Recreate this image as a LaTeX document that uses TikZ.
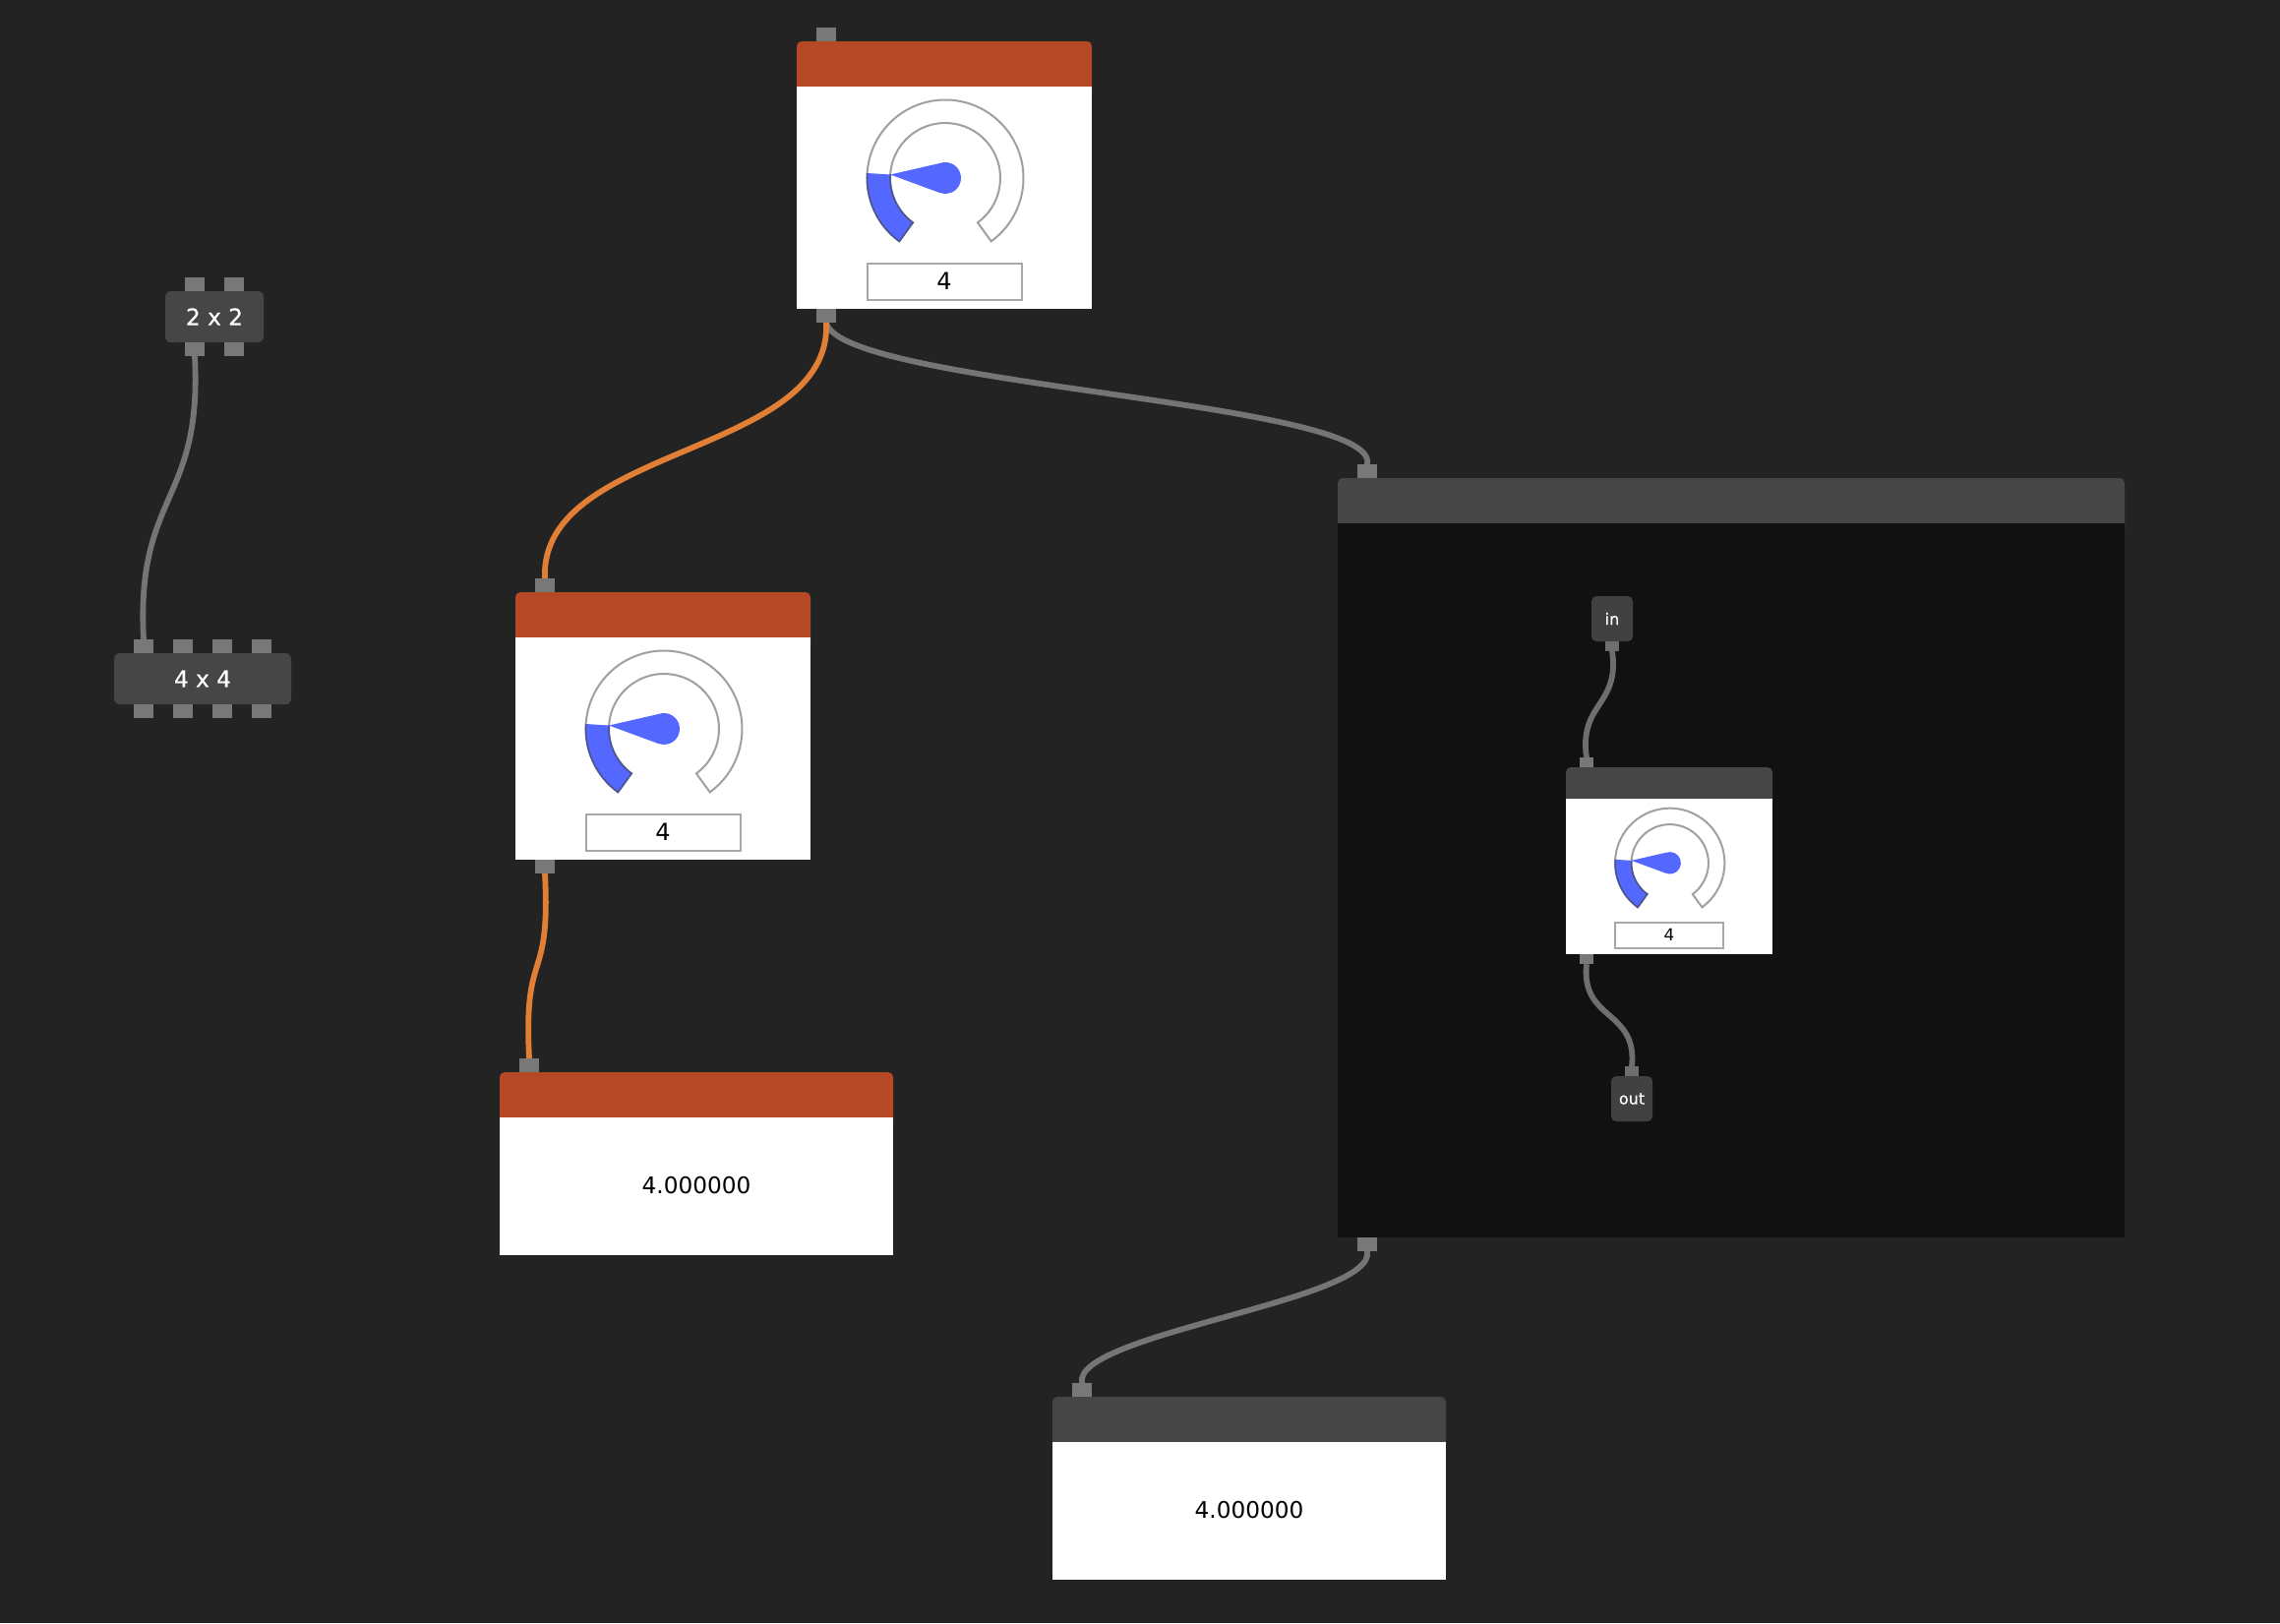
\documentclass[tikz,border=0pt]{standalone}
\usepackage{fontspec}
\setmainfont{DejaVu Sans}
\newfontfamily\heavylabel[FakeBold=0.5]{DejaVu Sans}
\definecolor{bgc}{HTML}{232323}
\definecolor{portc}{HTML}{787878}
\definecolor{innerport}{HTML}{6E6E6E}
\definecolor{greyhead}{HTML}{464646}
\definecolor{innerblock}{HTML}{414141}
\definecolor{panel}{HTML}{111111}
\definecolor{redhead}{HTML}{B54926}
\definecolor{orangewire}{HTML}{E07F35}
\definecolor{greywire}{HTML}{757575}
\definecolor{dialblue}{HTML}{5468FF}
\definecolor{dialline}{HTML}{A0A0A0}
\definecolor{dialedge}{HTML}{4A5590}
\definecolor{boxline}{HTML}{A8A8A8}
\tikzset{
  x=0.5pt,y=-0.5pt,
  port/.style={fill=portc,inner sep=0,outer sep=0,minimum width=10pt,minimum height=7pt},
  smallport/.style={fill=innerport,inner sep=0,outer sep=0,minimum width=7pt,minimum height=5pt},
  headbar/.style={fill=#1,inner sep=0,outer sep=0,rounded corners=2.5pt},
  bodybox/.style={fill=white,inner sep=0,outer sep=0,text=black},
  block/.style={fill=greyhead,text=white,inner sep=0,outer sep=0,rounded corners=3pt,font=\heavylabel\fontsize{11.6pt}{14pt}\selectfont},
  smallblock/.style={fill=innerblock,text=white,inner sep=0,outer sep=0,rounded corners=2.5pt,minimum width=21pt,minimum height=23pt,font=\heavylabel\fontsize{8pt}{10pt}\selectfont},
  wire/.style={draw=greywire,line width=2.9pt},
  orangeline/.style={draw=orangewire,line width=2.9pt},
  valuebox/.style={draw=boxline,fill=white,line width=1pt,inner sep=0,outer sep=0,minimum width=78.5pt,minimum height=18.5pt,text=black,font=\fontsize{12pt}{14pt}\selectfont},
  readout/.style={font=\fontsize{11.6pt}{14pt}\selectfont,text depth=1pt},
}
% name, left, top, scale, header colour
\newcommand{\gaugeblock}[5]{%
\begin{scope}[shift={(#2,#3)},scale=#4,transform shape]
  \node[port,fill=portc] (#1in) at (30,-7) {};
  \node[port] (#1out) at (30,279) {};
  \node[headbar=#5,minimum width=150pt,minimum height=29pt] (#1head) at (150,29) {};
  \node[bodybox,minimum width=150pt,minimum height=113pt] (#1body) at (150,159) {};
  \node[valuebox] (#1value) at (150,244) {4};
  \begin{scope}[shift={(151,139)}]
    \filldraw[draw=dialline,fill=white,line width=1pt,line join=miter]
      (234:39.75pt) arc[start angle=234,end angle=-54,radius=39.75pt]
      -- (-54:28pt) arc[start angle=-54,end angle=234,radius=28pt] -- cycle;
    \fill[dialblue] (234:39.75pt) arc[start angle=234,end angle=176.4,radius=39.75pt]
      -- (176.4:28pt) arc[start angle=176.4,end angle=234,radius=28pt] -- cycle;
    \draw[dialedge,line width=0.8pt] (176.4:39.75pt) arc[start angle=176.4,end angle=234,radius=39.75pt]
      -- (234:28pt) arc[start angle=234,end angle=176.4,radius=28pt];
    \fill[dialblue] (176.4:28pt) -- (109:8pt) arc[start angle=109,end angle=-110,radius=8pt] -- cycle;
  \end{scope}
\end{scope}}
\begin{document}
\begin{tikzpicture}
\useasboundingbox (0,0) rectangle (2318,1650);
\fill[bgc] (0,0) rectangle (2318,1650);

% 2 x 2 and 4 x 4
\node[block,minimum width=50pt,minimum height=26pt] (twobox) at (218,322) {2 x 2};
\node[port] (t1) at (198,289) {};
\node[port] (t2) at (238,289) {};
\node[port] (t3) at (198,355) {};
\node[port] (t4) at (238,355) {};
\node[block,minimum width=90pt,minimum height=26pt] (fourbox) at (206,690) {4 x 4};
\node[port] (f1) at (146,657) {};
\node[port] (f2) at (186,657) {};
\node[port] (f3) at (226,657) {};
\node[port] (f4) at (266,657) {};
\node[port] (f5) at (146,723) {};
\node[port] (f6) at (186,723) {};
\node[port] (f7) at (226,723) {};
\node[port] (f8) at (266,723) {};

% gauges
\gaugeblock{ga}{810}{42}{1}{redhead}
\gaugeblock{gb}{524}{602}{1}{redhead}

% display 1
\node[port] (da) at (538,1083) {};
\node[headbar=redhead,minimum width=200pt,minimum height=29pt] (dahead) at (708,1119) {};
\node[bodybox,readout,minimum width=200pt,minimum height=70pt] (dabody) at (708,1206) {4.000000};

% subgraph panel
\node[port] (pin) at (1390,479) {};
\node[port] (pout) at (1390,1265) {};
\node[headbar=greyhead,minimum width=400pt,minimum height=29pt] (phead) at (1760,515) {};
\node[fill=panel,inner sep=0,outer sep=0,minimum width=400pt,minimum height=363pt] (pbody) at (1760,895) {};

% inner blocks
\node[smallblock] (inn) at (1639,629) {in};
\node[smallport] (innp) at (1639,657) {};
\gaugeblock{gc}{1592}{780}{0.7}{greyhead}
\node[smallport] (outp) at (1659,1089) {};
\node[smallblock] (outn) at (1659,1117) {out};

% display 2
\node[port] (db) at (1100,1413) {};
\node[headbar=greyhead,minimum width=200pt,minimum height=29pt] (dbhead) at (1270,1449) {};
\node[bodybox,readout,minimum width=200pt,minimum height=70pt] (dbbody) at (1270,1536) {4.000000};

% connectors
\draw[wire] (t3.south) .. controls +(8,150) and +(-8,-150) .. (f1.north);
\draw[wire] (gaout.south) .. controls +(14,64) and +(14,-64) .. (pin.north);
\draw[orangeline] (gaout.south) .. controls +(6,136) and +(-6,-136) .. (gbin.north);
\draw[orangeline] (gbout.south) .. controls +(6,116) and +(-6,-116) .. (da.north);
\draw[wire] (pout.south) .. controls +(10,50) and +(-10,-50) .. (db.north);
\draw[wire,draw=innerport] (innp.south) .. controls +(8,56) and +(-8,-56) .. (gcin.north);
\draw[wire,draw=innerport] (gcout.south) .. controls +(-6,58) and +(6,-58) .. (outp.north);
\end{tikzpicture}
\end{document}
